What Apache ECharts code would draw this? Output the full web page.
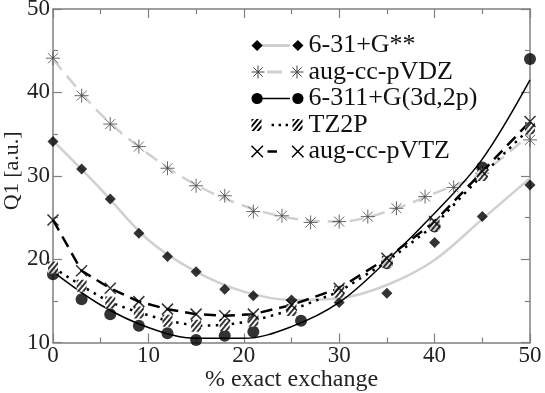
<!DOCTYPE html>
<html>
<head>
<meta charset="utf-8">
<script src="https://cdn.jsdelivr.net/npm/echarts@6/dist/echarts.min.js"></script>
<style>
html, body { margin: 0; padding: 0; background: #fff; }
#chart { width: 545px; height: 393px; }
</style>
</head>
<body>
<div id="chart"></div>
<script>
// values
var xMain = [0, 3, 6, 9, 12, 15, 18, 21, 25, 30, 35, 40, 45, 50];
var y631 = [34.1, 30.8, 27.2, 23.1, 20.3, 18.5, 16.4, 15.6, 15.1, 14.8, 15.9, 22.0, 25.1, 28.9];
var xVDZ = [0, 3, 6, 9, 12, 15, 18, 21, 24, 27, 30, 33, 36, 39, 42, 45, 50];
var yVDZ = [44.1, 39.6, 36.2, 33.5, 30.9, 28.8, 27.6, 25.7, 25.2, 24.4, 24.5, 25.1, 26.1, 27.5, 28.6, 30.3, 34.3];
var x6311 = [0, 3, 6, 9, 12, 15, 18, 21, 26, 35, 40, 45, 50];
var y6311 = [18.2, 15.2, 13.4, 12.0, 11.1, 10.3, 10.8, 11.3, 12.6, 19.5, 23.9, 31.0, 44.0];
var yTZ2P = [19.0, 16.8, 14.8, 13.6, 12.6, 12.0, 12.1, 12.6, 13.9, 16.1, 19.7, 24.1, 30.1, 35.7];
var yVTZ = [24.7, 18.6, 16.5, 14.9, 14.0, 13.4, 13.2, 13.4, 14.5, 16.5, 20.1, 24.5, 30.5, 36.5];
// fitted curves (grey ones and the solid black one)
var xFit = [0, 5, 10, 15, 20, 25, 30, 35, 40, 45, 50];
var fit631 = [34.2, 28.4, 22.3, 18.5, 16.1, 15.1, 15.3, 16.9, 19.9, 24.8, 29.7];
var fitVDZ = [44.0, 37.4, 32.6, 28.9, 26.4, 24.9, 24.5, 25.7, 27.9, 30.4, 35.0];
var fit6311 = [18.5, 14.5, 11.8, 10.5, 10.5, 11.9, 14.8, 19.8, 25.5, 32.0, 41.5];

var names = ['6-31+G**', 'aug-cc-pVDZ', '6-311+G(3d,2p)', 'TZ2P', 'aug-cc-pVTZ'];

function pts(xs, ys) {
    return xs.map(function (x, i) { return [x, ys[i]]; });
}

var font = 'Liberation Serif';
var axisColor = '#808080';
var grey = '#d0d0d0';

// symbols
var P_AST = 'path://M7 0V14M0 7H14M2 2L12 12M2 12L12 2';
var P_X = 'path://M0 0L12 12M0 12L12 0';
var P_HATCH = 'path://M0 0L3 0L0 3Z M6 0L9 0L0 9L0 6Z M12 0L12 3L3 12L0 12Z M12 6L12 9L9 12L6 12Z';

// legend icons, 52x14 box: markers at both ends, line in between (second legend)
var ANCH = 'M0 0h0.01v0.01h-0.01Z M51.99 13.99h0.01v0.01h-0.01Z ';
var L_DIA = 'path://M0.5 7L6 1.5L11.5 7L6 12.5Z M40.5 7L46 1.5L51.5 7L46 12.5Z';
var L_AST = 'path://M6.5 0.5V13.5M0 7H13M1.9 2.4L11.1 11.6M1.9 11.6L11.1 2.4 M45.5 0.5V13.5M39 7H52M40.9 2.4L50.1 11.6M40.9 11.6L50.1 2.4';
var L_CIR = 'path://M0.5 7A5.5 5.5 0 1 0 11.5 7A5.5 5.5 0 1 0 0.5 7Z M40.5 7A5.5 5.5 0 1 0 51.5 7A5.5 5.5 0 1 0 40.5 7Z';
var L_HAT = 'path://' + ANCH + 'M0 1L2.5 1L0 4Z M5 1L7.5 1L0 10L0 7Z M10 1L10 4L2.5 13L0 13Z M10 7L10 10L7.5 13L5 13Z ' +
    'M41 1L43.5 1L41 4Z M46 1L48.5 1L41 10L41 7Z M51 1L51 4L43.5 13L41 13Z M51 7L51 10L48.5 13L46 13Z';
var L_X = 'path://M1 1.5L12 12.5M1 12.5L12 1.5 M40 1.5L51 12.5M40 12.5L51 1.5';

var legendText = { fontFamily: font, fontSize: 26, lineHeight: 26, color: '#111' };

function xAx(pos) {
    return {
        type: 'value', min: 0, max: 50, interval: 10, position: pos,
        axisLine: { onZero: false, lineStyle: { color: axisColor, width: 1.5 } },
        axisTick: { inside: true, length: 9, lineStyle: { color: axisColor, width: 1.2 } },
        minorTick: { show: true, splitNumber: 2, length: 5, lineStyle: { color: axisColor, width: 1.2 } },
        splitLine: { show: false },
        axisLabel: { show: pos === 'bottom', fontFamily: font, fontSize: 23, color: '#222', margin: 2 }
    };
}
function yAx(pos) {
    return {
        type: 'value', min: 10, max: 50, interval: 10, position: pos,
        axisLine: { onZero: false, lineStyle: { color: axisColor, width: 1.5 } },
        axisTick: { inside: true, length: 9, lineStyle: { color: axisColor, width: 1.2 } },
        minorTick: { show: true, splitNumber: 2, length: 5, lineStyle: { color: axisColor, width: 1.2 } },
        splitLine: { show: false },
        axisLabel: { show: pos === 'left', fontFamily: font, fontSize: 23, color: '#222', margin: 3 }
    };
}

var xBottom = xAx('bottom');
xBottom.name = '% exact exchange';
xBottom.nameLocation = 'middle';
xBottom.nameGap = 25;
xBottom.nameMoveOverlap = false;
xBottom.nameTextStyle = { fontFamily: font, fontSize: 24, color: '#222' };
var yLeft = yAx('left');
yLeft.name = 'Q1 [a.u.]';
yLeft.nameLocation = 'middle';
yLeft.nameGap = 30;
yLeft.nameMoveOverlap = false;
yLeft.nameTextStyle = { fontFamily: font, fontSize: 22, color: '#222', padding: [0, 0, 0, 10] };

var option = {
    animation: false,
    grid: { left: 53, right: 15, top: 9, bottom: 50.5, outerBoundsMode: 'none' },
    xAxis: [xBottom, xAx('top')],
    yAxis: [yLeft, yAx('right')],
    legend: [{
        // line part of the legend keys, text hidden
        orient: 'vertical', left: 249, top: 32.5, padding: 0,
        itemWidth: 52, itemHeight: 14, itemGap: 0.5, selectedMode: false,
        textStyle: { fontFamily: font, fontSize: 26, lineHeight: 26, color: 'rgba(0,0,0,0)' },
        data: [
            { name: names[0], icon: 'path://' + ANCH + 'M11 5.6H41V8.4H11Z', itemStyle: { color: grey, borderWidth: 0 } },
            { name: names[1], icon: 'path://' + ANCH + 'M18 5.6H33V8.4H18Z', itemStyle: { color: grey, borderWidth: 0 } },
            { name: names[2], icon: 'path://' + ANCH + 'M11 6.3H41V7.7H11Z', itemStyle: { color: '#000', borderWidth: 0 } },
            { name: names[3], icon: 'path://' + ANCH + 'M22.6 5.8h2.4v2.4h-2.4Z M29.6 5.8h2.4v2.4h-2.4Z M36.6 5.8h2.4v2.4h-2.4Z', itemStyle: { color: '#000', borderWidth: 0 } },
            { name: names[4], icon: 'path://' + ANCH + 'M18.5 5.8H28V8.2H18.5Z', itemStyle: { color: '#000', borderWidth: 0 } }
        ]
    }, {
        orient: 'vertical', left: 249, top: 32.5, padding: 0,
        itemWidth: 52, itemHeight: 14, itemGap: 0.5, selectedMode: false,
        textStyle: legendText,
        data: [
            { name: names[0], icon: L_DIA, itemStyle: { color: '#000', borderWidth: 0 } },
            { name: names[1], icon: L_AST, itemStyle: { color: 'none', borderColor: '#444', borderWidth: 1 } },
            { name: names[2], icon: L_CIR, itemStyle: { color: '#000', borderWidth: 0 } },
            { name: names[3], icon: L_HAT, itemStyle: { color: '#000', borderWidth: 0 } },
            { name: names[4], icon: L_X, itemStyle: { color: 'none', borderColor: '#000', borderWidth: 1.5 } }
        ]
    }],
    series: [{
        name: names[0], type: 'line', data: pts(xFit, fit631), smooth: 0.35, symbol: 'none',
        lineStyle: { color: grey, width: 2.5 }, itemStyle: { color: grey }
    }, {
        name: names[1], type: 'line', data: pts(xFit, fitVDZ), smooth: 0.35, symbol: 'none',
        lineStyle: { color: grey, width: 2.5, type: [14, 8] }, itemStyle: { color: grey }
    }, {
        name: names[2], type: 'line', data: pts(xFit, fit6311), smooth: 0.35, symbol: 'none',
        lineStyle: { color: '#000', width: 1.5 }, itemStyle: { color: '#000' }
    }, {
        name: names[3], type: 'line', data: pts(xMain, yTZ2P), symbol: 'none',
        lineStyle: { color: '#000', width: 2.5, type: [2.5, 5.5] }, itemStyle: { color: '#000' }
    }, {
        name: names[4], type: 'line', data: pts(xMain, yVTZ), symbol: 'none',
        lineStyle: { color: '#000', width: 2.5, type: [12, 7] }, itemStyle: { color: '#000' }
    }, {
        name: names[0], type: 'scatter', z: 5, data: pts(xMain, y631),
        symbol: 'diamond', symbolSize: 11, itemStyle: { color: '#000' }
    }, {
        name: names[1], type: 'scatter', z: 5, data: pts(xVDZ, yVDZ),
        symbol: P_AST, symbolSize: 14, itemStyle: { color: 'none', borderColor: '#444', borderWidth: 1 }
    }, {
        name: names[2], type: 'scatter', z: 5, data: pts(x6311, y6311),
        symbol: 'circle', symbolSize: 12, itemStyle: { color: '#000' }
    }, {
        name: names[3], type: 'scatter', z: 5, data: pts(xMain, yTZ2P),
        symbol: 'rect', symbolSize: [10, 12], itemStyle: { color: '#fff' }
    }, {
        name: names[3], type: 'scatter', z: 5, data: pts(xMain, yTZ2P),
        symbol: P_HATCH, symbolSize: [10, 12], symbolKeepAspect: false, itemStyle: { color: '#000' }
    }, {
        name: names[4], type: 'scatter', z: 5, data: pts(xMain, yVTZ),
        symbol: P_X, symbolSize: 11, itemStyle: { color: 'none', borderColor: '#000', borderWidth: 1.5 }
    }]
};

var myChart = echarts.init(document.getElementById('chart'));
myChart.setOption(option);
window.onresize = myChart.resize;
</script>
</body>
</html>
